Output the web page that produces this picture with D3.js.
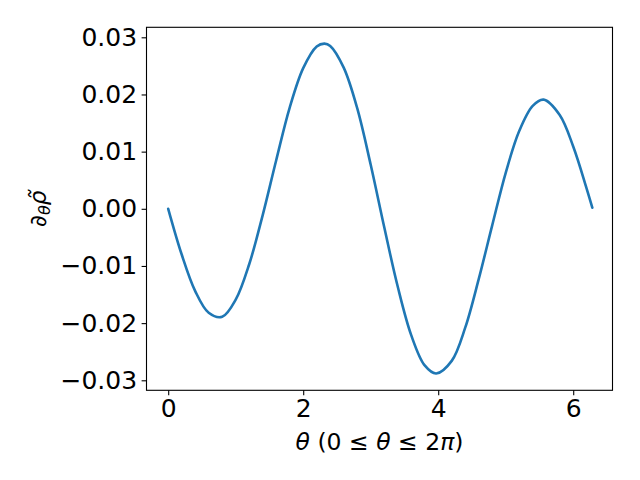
<!DOCTYPE html>
<html>
<head>
<meta charset="utf-8">
<script src="https://cdn.jsdelivr.net/npm/d3@7/dist/d3.min.js"></script>
<style>
  html, body { margin: 0; padding: 0; background: #ffffff; }
  svg { display: block; }
  text { font-family: "DejaVu Sans", sans-serif; fill: #000; }
</style>
</head>
<body>
<script>
// θ values (radians)
const theta = [0.0, 0.2, 0.4, 0.6, 0.8, 1.0, 1.2, 1.4, 1.6, 1.8,
  2.0, 2.2, 2.314, 2.4, 2.6, 2.8, 3.0, 3.2, 3.4, 3.6,
  3.8, 3.97, 4.2, 4.4, 4.6, 4.8, 5.0, 5.2, 5.4,
  5.561, 5.8, 6.0, 6.2, 6.283];
// ∂θ ρ̃ values
const dRho = [0.0000, -0.0080, -0.0144, -0.0182, -0.0189, -0.0159, -0.0097, -0.0011, 0.0085, 0.0177,
  0.0246, 0.0284, 0.0289, 0.0285, 0.0247, 0.0176, 0.0077, -0.0032, -0.0136, -0.0221,
  -0.0274, -0.0288, -0.0266, -0.0208, -0.0123, -0.0029, 0.0063, 0.0136, 0.0180,
  0.0191, 0.0164, 0.0109, 0.0035, 0.0002];
const xTicks = [0, 2, 4, 6];
const yTicks = [-0.03, -0.02, -0.01, 0.00, 0.01, 0.02, 0.03];

(function () {
const W = 640, H = 480;
const pL = 146.5, pR = 612.5, pT = 27.3, pB = 390.3;

const svg = d3.select("body").append("svg").attr("width", W).attr("height", H);
svg.append("rect").attr("width", W).attr("height", H).attr("fill", "#fff");

const x = d3.scaleLinear().domain([-0.3215, 6.582]).range([pL, pR]);
const y = d3.scaleLinear().domain([-0.03175, 0.03175]).range([pB, pT]);

const data = theta.map((t, i) => ({ t: t, v: dRho[i] }));

const line = d3.line().x(d => x(d.t)).y(d => y(d.v)).curve(d3.curveCatmullRom.alpha(0.5));

svg.append("path").datum(data)
  .attr("d", line)
  .attr("fill", "none")
  .attr("stroke", "#1f77b4")
  .attr("stroke-width", 2.6)
  .attr("stroke-linecap", "round");

const fmt = v => d3.format(".2f")(v).replace("-", "\u2212");

const xAxis = d3.axisBottom(x).tickValues(xTicks).tickFormat(d3.format("d"))
  .tickSize(4.9).tickPadding(4.5);
const gx = svg.append("g").attr("transform", `translate(0,${pB})`).call(xAxis);
gx.select(".domain").remove();
gx.selectAll("line").attr("stroke", "#000").attr("stroke-width", 1.1);
gx.selectAll("text").attr("font-size", 25).attr("font-family", "DejaVu Sans").attr("fill", "#000");

const yAxis = d3.axisLeft(y).tickValues(yTicks).tickFormat(fmt)
  .tickSize(4.9).tickPadding(4.5);
const gy = svg.append("g").attr("transform", `translate(${pL},0)`).call(yAxis);
gy.select(".domain").remove();
gy.selectAll("line").attr("stroke", "#000").attr("stroke-width", 1.1);
gy.selectAll("text").attr("font-size", 25).attr("font-family", "DejaVu Sans").attr("fill", "#000");

// frame
svg.append("rect")
  .attr("x", pL).attr("y", pT)
  .attr("width", pR - pL).attr("height", pB - pT)
  .attr("fill", "none").attr("stroke", "#000").attr("stroke-width", 1.1);

// x label
const xl = svg.append("text")
  .attr("x", (pL + pR) / 2).attr("y", 450)
  .attr("text-anchor", "middle").attr("font-size", 23.5);
xl.append("tspan").attr("font-style", "italic").text("θ");
xl.append("tspan").text(" (0 ≤ ");
xl.append("tspan").attr("font-style", "italic").text("θ");
xl.append("tspan").text(" ≤ 2");
xl.append("tspan").attr("font-style", "italic").text("π");
xl.append("tspan").text(")");

// y label
const yl = svg.append("text")
  .attr("transform", `translate(46,${(pT + pB) / 2}) rotate(-90)`)
  .attr("text-anchor", "middle").attr("font-size", 23);
yl.append("tspan").text("∂");
yl.append("tspan").attr("font-style", "italic").attr("font-size", 16).attr("dy", 4).text("θ");
yl.append("tspan").attr("font-style", "italic").attr("dy", -4).text("ρ\u0303");
})();
</script>
</body>
</html>
